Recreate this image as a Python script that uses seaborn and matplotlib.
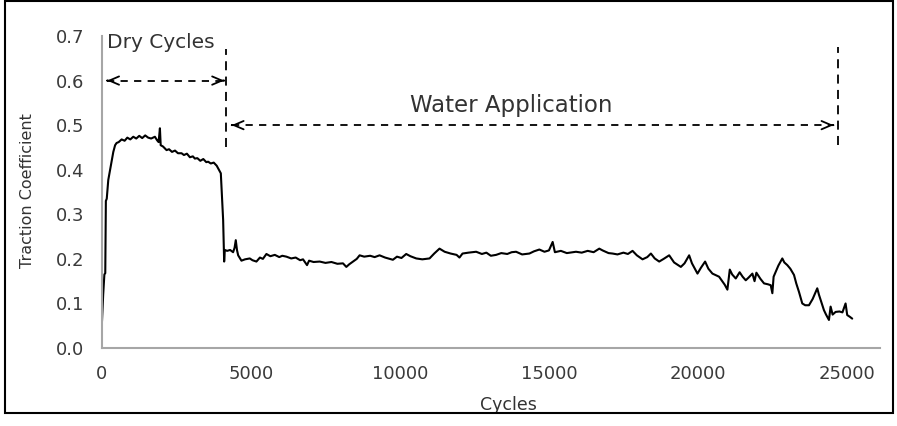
import matplotlib
matplotlib.use("Agg")
import matplotlib.pyplot as plt
import seaborn as sns
import pandas as pd
from matplotlib.patches import Rectangle

# ---- data ----
cycles = [0, 40, 80, 110, 130, 160, 211, 300, 380, 440, 490, 560, 660, 760, 850, 950,
          1050, 1150, 1250, 1350, 1450, 1550, 1650, 1776, 1850, 1900, 1944, 1970, 2050,
          2167, 2250, 2350, 2450, 2550, 2670, 2750, 2850, 2950, 3050, 3117, 3200, 3300,
          3400, 3500, 3564, 3650, 3750, 3850, 3899, 3988, 4066, 4100, 4122, 4200, 4300,
          4400, 4450, 4490, 4530, 4570, 4680, 4800, 4960, 5050, 5183, 5300, 5400, 5518,
          5650, 5800, 5950, 6050, 6190, 6350, 6500, 6650, 6747, 6820, 6881, 6950, 7100,
          7306, 7500, 7700, 7900, 8088, 8200, 8300, 8423, 8550, 8646, 8800, 9000, 9150,
          9316, 9500, 9650, 9763, 9900, 10050, 10210, 10350, 10546, 10750, 10992, 11150,
          11327, 11500, 11700, 11900, 11997, 12100, 12300, 12557, 12750, 12900, 13050,
          13227, 13400, 13600, 13750, 13897, 14100, 14343, 14500, 14678, 14850, 15000,
          15125, 15200, 15400, 15600, 15908, 16100, 16300, 16500, 16689, 16800, 17000,
          17135, 17300, 17500, 17650, 17806, 17950, 18141, 18300, 18422, 18550, 18700,
          18850, 19035, 19200, 19427, 19550, 19705, 19800, 19985, 20100, 20241, 20350,
          20487, 20710, 20900, 20989, 21069, 21150, 21270, 21400, 21500, 21605, 21700,
          21828, 21900, 21962, 22100, 22219, 22350, 22443, 22498, 22540, 22611, 22700,
          22832, 22900, 23000, 23100, 23224, 23300, 23391, 23502, 23600, 23727, 23850,
          24005, 24060, 24118, 24229, 24300, 24397, 24453, 24520, 24620, 24750, 24850,
          24955, 25010, 25100, 25178]
traction = [0.060, 0.120, 0.165, 0.168, 0.330, 0.335, 0.377, 0.410, 0.440, 0.455, 0.460,
            0.462, 0.468, 0.465, 0.472, 0.468, 0.474, 0.470, 0.476, 0.471, 0.477, 0.472,
            0.470, 0.474, 0.466, 0.462, 0.493, 0.455, 0.452, 0.444, 0.446, 0.440, 0.443,
            0.437, 0.437, 0.433, 0.436, 0.428, 0.430, 0.425, 0.426, 0.420, 0.424, 0.417,
            0.418, 0.414, 0.416, 0.409, 0.403, 0.392, 0.287, 0.194, 0.220, 0.218, 0.220,
            0.215, 0.225, 0.242, 0.220, 0.208, 0.196, 0.199, 0.201, 0.197, 0.194, 0.203,
            0.200, 0.211, 0.206, 0.209, 0.204, 0.207, 0.205, 0.201, 0.203, 0.197, 0.199,
            0.192, 0.186, 0.196, 0.193, 0.194, 0.191, 0.193, 0.189, 0.190, 0.182, 0.188,
            0.194, 0.200, 0.208, 0.205, 0.207, 0.204, 0.208, 0.203, 0.200, 0.198, 0.205,
            0.202, 0.211, 0.206, 0.201, 0.199, 0.201, 0.212, 0.223, 0.216, 0.212, 0.209,
            0.203, 0.212, 0.214, 0.216, 0.211, 0.214, 0.207, 0.209, 0.213, 0.211, 0.215,
            0.216, 0.210, 0.212, 0.217, 0.221, 0.216, 0.219, 0.238, 0.215, 0.218, 0.213,
            0.216, 0.214, 0.218, 0.215, 0.223, 0.219, 0.213, 0.212, 0.210, 0.214, 0.211,
            0.218, 0.208, 0.199, 0.204, 0.212, 0.201, 0.194, 0.200, 0.208, 0.192, 0.182,
            0.190, 0.208, 0.190, 0.167, 0.180, 0.194, 0.178, 0.167, 0.160, 0.142, 0.131,
            0.176, 0.165, 0.156, 0.170, 0.160, 0.152, 0.158, 0.167, 0.150, 0.169, 0.155,
            0.145, 0.143, 0.141, 0.123, 0.160, 0.171, 0.185, 0.201, 0.192, 0.186, 0.178,
            0.164, 0.145, 0.126, 0.100, 0.096, 0.096, 0.110, 0.134, 0.120, 0.108, 0.085,
            0.075, 0.063, 0.093, 0.075, 0.081, 0.082, 0.080, 0.100, 0.074, 0.070, 0.066]

x_ticks = [0, 5000, 10000, 15000, 20000, 25000]
y_ticks = [0.0, 0.1, 0.2, 0.3, 0.4, 0.5, 0.6, 0.7]
x_label = "Cycles"
y_label = "Traction Coefficient"
dry_label = "Dry Cycles"
water_label = "Water Application"
dry_span = [170, 4100]        # arrow extent (cycles)
water_span = [4350, 24550]
boundaries = [4150, 24700]    # dashed vertical separators

df = pd.DataFrame({"Cycles": cycles, "Traction": traction})

sns.set_style("white")
plt.rcParams["font.family"] = ["DejaVu Sans"]

fig = plt.figure(figsize=(8.97, 4.26), dpi=100)
ax = fig.add_axes([0.1137, 0.183, 0.867, 0.7325])

sns.lineplot(data=df, x="Cycles", y="Traction", ax=ax, color="black", lw=1.5,
             estimator=None, sort=False)

ax.set_xlim(0, 26100)
ax.set_ylim(0, 0.7)
ax.set_xticks(x_ticks)
ax.set_yticks(y_ticks)
ax.set_yticklabels([f"{v:.1f}" for v in y_ticks])

for s in ["top", "right"]:
    ax.spines[s].set_visible(False)
for s in ["left", "bottom"]:
    ax.spines[s].set_color("#a6a6a6")
    ax.spines[s].set_linewidth(1.5)
ax.tick_params(axis="both", direction="out", length=6, width=1.2, color="#a6a6a6",
               labelsize=13, labelcolor="#3a3a3a")
ax.tick_params(axis="y", pad=7)
ax.tick_params(axis="x", pad=6)

narrow = ["Liberation Sans Narrow", "DejaVu Sans"]
ax.set_xlabel(x_label, family=narrow, fontsize=12.5, color="#333333")
ax.set_ylabel(y_label, family=narrow, fontsize=11.5, color="#333333")
ax.xaxis.set_label_coords((509 - 102) / 778, -0.155)
ax.yaxis.set_label_coords((35 - 102) / 778, 0.506)

# dashed vertical separators
for b, (y0, y1) in zip(boundaries, [(0.45, 0.67), (0.455, 0.675)]):
    ax.plot([b, b], [y0, y1], color="black", lw=1.3, ls=(0, (5, 3.5)))

# arrows
def dbl_arrow(x0, x1, y):
    ax.plot([x0, x1], [y, y], color="black", lw=1.3, ls=(0, (4, 3.5)))
    for xe, xs in [(x0, x0 + 10), (x1, x1 - 10)]:
        ax.annotate("", xy=(xe, y), xytext=(xs, y),
                    arrowprops=dict(arrowstyle="->,head_length=0.7,head_width=0.3",
                                    lw=1.3, color="black", shrinkA=0, shrinkB=0))

dbl_arrow(dry_span[0], dry_span[1], 0.6)
dbl_arrow(water_span[0], water_span[1], 0.5)

ax.text(170, 0.686, dry_label, fontsize=14.5, color="#333333", va="center", ha="left")
ax.text(13750, 0.545, water_label, fontsize=16.5, color="#333333", va="center", ha="center")

fig.patches.append(Rectangle((5 / 897, 13 / 426), 888 / 897, 412 / 426,
                             transform=fig.transFigure, fill=False,
                             edgecolor="black", lw=1.5))

fig.savefig("out.png", dpi=100)
